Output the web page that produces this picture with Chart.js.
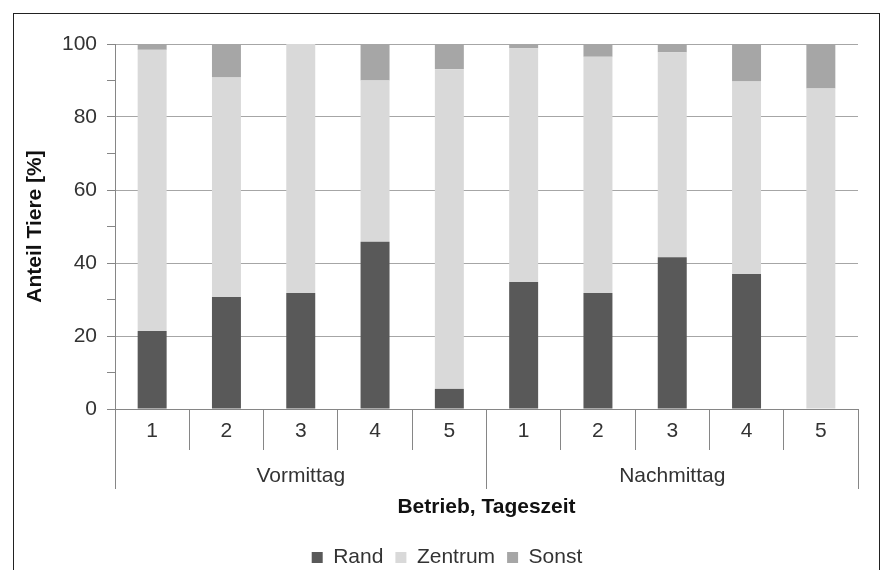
<!DOCTYPE html>
<html>
<head>
<meta charset="utf-8">
<script src="https://cdn.jsdelivr.net/npm/chart.js@4/dist/chart.umd.min.js"></script>
<style>
  html, body { margin: 0; padding: 0; background: #fff; }
  #wrap { width: 880px; height: 570px; }
</style>
</head>
<body>
<div id="wrap"><canvas id="anteilChart" width="880" height="570"></canvas></div>
<script>
const betriebe = ['1', '2', '3', '4', '5', '1', '2', '3', '4', '5'];
const tageszeiten = ['Vormittag', 'Nachmittag'];
const rand = [21.4, 30.7, 31.8, 45.8, 5.5, 34.8, 31.8, 41.6, 37.0, 0];
const zentrum = [77.0, 60.1, 68.2, 44.2, 87.6, 64.0, 64.7, 56.1, 52.7, 87.8];
const sonst = [1.6, 9.2, 0, 10.0, 6.9, 1.2, 3.5, 2.3, 10.3, 12.2];

const fontFamily = "'Liberation Sans', Arial, sans-serif";
const axisGrey = '#868686';

// frame round the whole chart, like the exported picture
const framePlugin = {
  id: 'frame',
  beforeDraw(chart) {
    const ctx = chart.ctx;
    ctx.save();
    ctx.fillStyle = '#fff';
    ctx.fillRect(0, 0, chart.width, chart.height);
    ctx.strokeStyle = '#222';
    ctx.lineWidth = 1;
    ctx.strokeRect(13.5, 13.5, chart.width - 14, chart.height + 10);
    ctx.restore();
  }
};

const ctx = document.getElementById('anteilChart').getContext('2d');

new Chart(ctx, {
  type: 'bar',
  data: {
    labels: betriebe,
    datasets: [
      { label: 'Rand', data: rand, backgroundColor: '#595959' },
      { label: 'Zentrum', data: zentrum, backgroundColor: '#d9d9d9' },
      { label: 'Sonst', data: sonst, backgroundColor: '#a6a6a6' }
    ]
  },
  options: {
    responsive: false,
    animation: false,
    // left padding keeps the legend centred like the original; the y title sits in it
    layout: { padding: { top: 44, right: 22, left: 36, bottom: -8 } },
    datasets: { bar: { categoryPercentage: 1, barPercentage: 0.39 } },
    plugins: {
      tooltip: { enabled: false },
      legend: {
        position: 'bottom',
        labels: {
          boxWidth: 11,
          boxHeight: 11,
          padding: 12,
          color: '#333',
          font: { family: fontFamily, size: 21 }
        }
      }
    },
    scales: {
      x: {
        stacked: true,
        offset: true,
        grid: { offset: true, drawOnChartArea: false, tickLength: 41, color: axisGrey },
        border: { color: axisGrey },
        ticks: { padding: -31, maxRotation: 0, autoSkip: false, color: '#333', font: { family: fontFamily, size: 21 } },
        afterFit(scale) { scale.height = 41; }
      },
      x2: {
        type: 'category',
        position: 'bottom',
        labels: tageszeiten,
        offset: true,
        grid: { offset: true, drawOnChartArea: false, tickLength: 39, color: axisGrey },
        border: { display: false },
        ticks: { padding: -25, maxRotation: 0, color: '#333', font: { family: fontFamily, size: 21 } },
        title: {
          display: true,
          text: 'Betrieb, Tageszeit',
          color: '#111',
          padding: { top: 0, bottom: 15 },
          font: { family: fontFamily, size: 21, weight: 'bold' }
        },
        afterFit(scale) { scale.height = 85; }
      },
      y: {
        stacked: true,
        min: 0,
        max: 100,
        grid: {
          color: c => (c.tick.value % 20 === 0 ? '#a6a6a6' : 'transparent'),
          tickColor: axisGrey,
          tickLength: 8
        },
        border: { color: axisGrey },
        ticks: {
          stepSize: 10,
          padding: 10,
          color: '#333',
          font: { family: fontFamily, size: 21 },
          callback: v => (v % 20 === 0 ? v : '')
        },
        title: {
          display: true,
          text: 'Anteil Tiere [%]',
          color: '#111',
          padding: { top: -13, bottom: 0 },
          font: { family: fontFamily, size: 21, weight: 'bold' }
        },
        afterFit(scale) { scale.width = 79; }
      }
    }
  },
  plugins: [framePlugin]
});
</script>
</body>
</html>
